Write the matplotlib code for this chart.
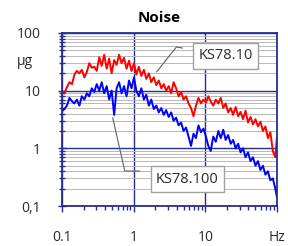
import matplotlib
matplotlib.use("Agg")
import matplotlib.pyplot as plt
from matplotlib.ticker import NullFormatter, LogLocator

# frequencies (Hz) shared by both spectra
freq = [0.100, 0.108, 0.117, 0.127, 0.138, 0.149, 0.161, 0.175, 0.189, 0.205, 0.222,
        0.240, 0.260, 0.282, 0.305, 0.331, 0.358, 0.388, 0.420, 0.455, 0.493,
        0.534, 0.578, 0.626, 0.678, 0.734, 0.795, 0.861, 0.933, 1.01,
        1.09, 1.18, 1.28, 1.39, 1.50, 1.63, 1.76, 1.91, 2.07, 2.24,
        2.43, 2.63, 2.84, 3.08, 3.34, 3.61, 3.91, 4.24, 4.59, 4.97,
        5.38, 5.83, 6.31, 6.84, 7.40, 8.02, 8.68, 9.40, 10.2,
        11.0, 11.9, 12.9, 14.0, 15.2, 16.4, 17.8, 19.2, 20.8, 22.6,
        24.4, 26.5, 28.7, 31.0, 33.6, 36.4, 39.4, 42.7, 46.2, 50.1,
        54.2, 58.7, 63.6, 68.9, 74.6, 80.8, 87.5, 94.7, 100.0]

# noise level of KS78.10 (red), in µg
ks10 = [9.5, 9.0, 11.5, 14, 13, 19, 22, 20, 23, 17, 21,
        30, 25, 26, 22, 38, 27, 42, 24, 36, 20,
        34, 28, 42, 30, 37, 24, 33, 22, 30,
        19, 26, 18, 23, 16, 20, 14, 17, 12.5, 15,
        11, 13, 10, 12, 9, 14, 11, 8, 9.5, 7,
        8, 6, 5, 3.6, 5.5, 7.5, 6, 7, 6.2,
        8, 6.5, 5.5, 7, 6, 7.5, 5, 6, 4.2, 5,
        3.8, 5.2, 3.6, 4.3, 3.2, 4.5, 2.8, 3.5, 2.6, 3.2,
        2.4, 2.9, 2.0, 2.4, 1.5, 1.9, 0.9, 0.7, 1.6]

# noise level of KS78.100 (blue), in µg
ks100 = [4.4, 4.8, 5.5, 7.5, 6.5, 6, 7, 5.5, 8, 7, 9,
         8, 11, 9.5, 13, 10, 14, 9, 12, 7, 10,
         3.8, 11, 14, 9, 12, 8, 15, 11, 17,
         10, 8, 11, 7, 8.5, 5.5, 7, 4.8, 5.5, 4.2,
         5, 3.8, 4.6, 3.5, 4.2, 3, 3.4, 2.5, 2.8, 2,
         2.3, 1.6, 1.1, 1.8, 1.5, 2.5, 1.9, 2.2, 1.6,
         1.1, 0.9, 1.6, 1.3, 2.0, 1.5, 2.1, 1.4, 1.7, 1.2,
         1.4, 1.0, 1.2, 0.85, 1.0, 0.7, 0.85, 0.6, 0.7, 0.5,
         0.6, 0.42, 0.5, 0.35, 0.4, 0.28, 0.3, 0.2, 0.14]

x_ticks = [0.1, 1, 10, 100]
x_labels = ['0.1', '1', '10', 'Hz']
y_ticks = [0.1, 1, 10, 100]
y_labels = ['0,1', '1', '10', '100']

navy = '#26308a'
font = 'Open Sans'
txt = '#2a2a2a'

fig = plt.figure(figsize=(2.88, 2.46), dpi=100)
ax = fig.add_axes([0.2153, 0.1626, 0.7465, 0.7033])

ax.plot(freq, ks10, color='#ff0000', lw=1.4)
ax.plot(freq, ks100, color='#0000ff', lw=1.4)

ax.set_xscale('log')
ax.set_yscale('log')
ax.set_xlim(0.1, 100)
ax.set_ylim(0.1, 100)

ax.set_xticks(x_ticks)
ax.set_xticklabels(x_labels, fontfamily=font, fontsize=10, color=txt, fontweight='medium')
ax.set_yticks(y_ticks)
ax.set_yticklabels(y_labels, fontfamily=font, fontsize=10, color=txt, fontweight='medium')
ax.xaxis.set_minor_locator(LogLocator(base=10, subs=range(2, 10)))
ax.yaxis.set_minor_locator(LogLocator(base=10, subs=range(2, 10)))
ax.xaxis.set_minor_formatter(NullFormatter())
ax.yaxis.set_minor_formatter(NullFormatter())

ax.tick_params(axis='x', which='both', direction='out', color=navy, pad=13)
ax.tick_params(axis='x', which='major', length=4, width=1)
ax.tick_params(axis='x', which='minor', length=3, width=1)
ax.tick_params(axis='y', which='both', direction='inout', color=navy, pad=12)
ax.tick_params(axis='y', which='major', length=6, width=1)
ax.tick_params(axis='y', which='minor', length=4, width=1)

ax.yaxis.grid(True, which='minor', color='#b8b8b8', lw=0.7)
ax.grid(True, which='major', color=navy, lw=1.0)
ax.set_axisbelow(True)
for pos in ax.spines:
    ax.spines[pos].set_color(navy)
    ax.spines[pos].set_linewidth(1.3)

fig.text(0.553, 0.927, 'Noise', ha='center', va='center',
         fontfamily=font, fontsize=11, fontweight='bold')
fig.text(0.087, 0.748, 'µg', ha='center', va='center',
         fontfamily=font, fontsize=10, color=txt, fontweight='medium')

box = dict(boxstyle='square,pad=0.35', fc='white', ec='#a0a0a0', lw=1)
ax.text(0.76, 0.867, 'KS78.10', transform=ax.transAxes, ha='center', va='center',
        fontfamily=font, fontsize=10.5, color=txt, bbox=box, zorder=5)
ax.text(0.583, 0.156, 'KS78.100', transform=ax.transAxes, ha='center', va='center',
        fontfamily=font, fontsize=10.5, color=txt, bbox=box, zorder=5)

ax.plot([0.560, 0.532, 0.440], [0.913, 0.919, 0.775], transform=ax.transAxes,
        color='#606060', lw=0.8, zorder=4, clip_on=False)
ax.plot([0.361, 0.292, 0.236], [0.202, 0.202, 0.509], transform=ax.transAxes,
        color='#606060', lw=0.8, zorder=4, clip_on=False)

fig.savefig('out.png', dpi=100)
